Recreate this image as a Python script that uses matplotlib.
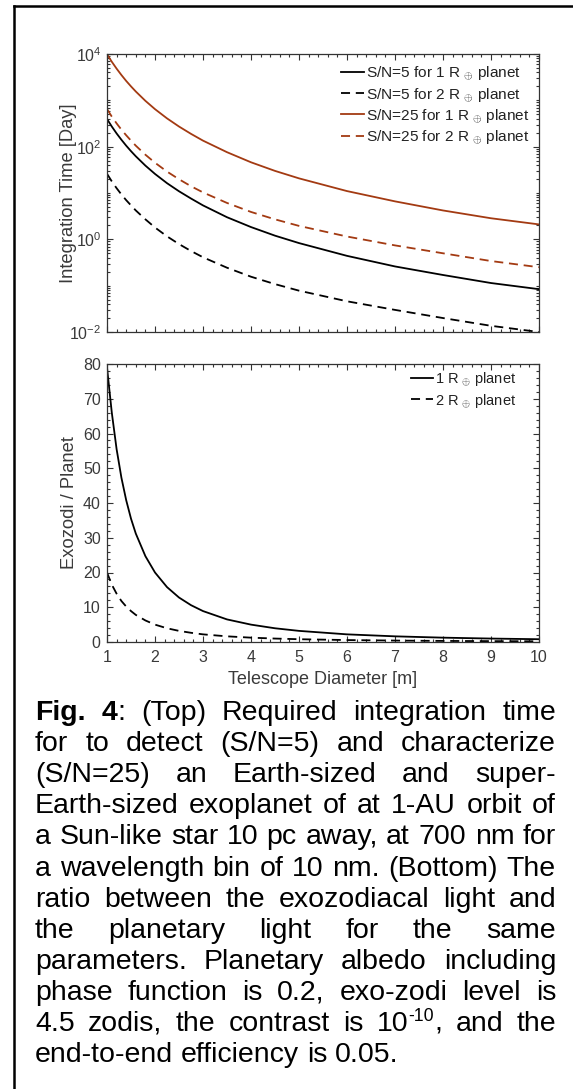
import math
import matplotlib
matplotlib.use('Agg')
import matplotlib.pyplot as plt
from matplotlib.ticker import FixedLocator, MultipleLocator, FuncFormatter, NullFormatter, LogLocator
from matplotlib.lines import Line2D

plt.rcParams['font.family'] = ['Liberation Sans', 'DejaVu Sans']
plt.rcParams['mathtext.fontset'] = 'custom'
plt.rcParams['mathtext.rm'] = 'Liberation Sans'
plt.rcParams['mathtext.it'] = 'Liberation Sans:italic'
plt.rcParams['mathtext.bf'] = 'Liberation Sans:bold'
plt.rcParams['mathtext.sf'] = 'Liberation Sans'

# ---------------- data ----------------
diameter = [1.0, 1.1, 1.2, 1.3, 1.4, 1.5, 1.6, 1.8, 2.0, 2.25, 2.5, 2.75,
            3.0, 3.5, 4.0, 4.5, 5.0, 6.0, 7.0, 8.0, 9.0, 10.0]

t_sn5_1re = [396, 272, 193, 141, 105, 80, 62, 39, 25.8, 16.3, 10.9, 7.6,
             5.4, 3.0, 1.84, 1.2, 0.83, 0.44, 0.26, 0.17, 0.114, 0.084]
t_sn5_2re = [26, 17.8, 12.7, 9.3, 7.0, 5.4, 4.2, 2.7, 1.8, 1.16, 0.79, 0.56,
             0.41, 0.244, 0.156, 0.108, 0.078, 0.046, 0.030, 0.020, 0.0136, 0.0100]
t_sn25_1re = [9900, 6800, 4830, 3520, 2620, 2000, 1550, 975, 645, 408, 272, 189,
              135, 76, 46, 30, 20.7, 11.0, 6.6, 4.2, 2.85, 2.1]
t_sn25_2re = [650, 445, 318, 233, 176, 135, 105, 67, 45, 29, 19.8, 14.0,
              10.3, 6.1, 3.9, 2.7, 1.95, 1.15, 0.74, 0.5, 0.34, 0.25]

ratio_1re = [79, 66, 55.5, 47.3, 40.8, 35.5, 31.2, 24.7, 20, 15.8, 12.8, 10.6,
             8.9, 6.5, 5.0, 3.95, 3.2, 2.2, 1.63, 1.25, 0.99, 0.8]
ratio_2re = [20, 16.5, 13.9, 11.8, 10.2, 8.9, 7.8, 6.2, 5.0, 3.95, 3.2, 2.65,
             2.2, 1.63, 1.25, 0.99, 0.8, 0.56, 0.41, 0.31, 0.25, 0.2]

top_labels = ['S/N=5 for 1 R $_{\\oplus}$ planet', 'S/N=5 for 2 R $_{\\oplus}$ planet',
              'S/N=25 for 1 R $_{\\oplus}$ planet', 'S/N=25 for 2 R $_{\\oplus}$ planet']
bottom_labels = ['1 R $_{\\oplus}$ planet', '2 R $_{\\oplus}$ planet']
xticks = [1, 2, 3, 4, 5, 6, 7, 8, 9, 10]
top_yticks = [1e-2, 1e0, 1e2, 1e4]
bottom_yticks = [0, 10, 20, 30, 40, 50, 60, 70, 80]

caption_lines = [
    "Fig. 4: (Top) Required integration time",
    "for to detect (S/N=5) and characterize",
    "(S/N=25) an Earth-sized and super-",
    "Earth-sized exoplanet of at 1-AU orbit of",
    "a Sun-like star 10 pc away, at 700 nm for",
    "a wavelength bin of 10 nm. (Bottom) The",
    "ratio between the exozodiacal light and",
    "the planetary light for the same",
    "parameters. Planetary albedo including",
    "phase function is 0.2, exo-zodi level is",
    "4.5 zodis, the contrast is 10^-10, and the",
    "end-to-end efficiency is 0.05.",
]

# ---------------- figure ----------------
W, H = 573, 1089
fig = plt.figure(figsize=(W / 100, H / 100), dpi=100)
fig.patch.set_facecolor('white')

BROWN = '#A33A12'
AX_COL = '#333333'
TXT_COL = '#3a3a3a'
DASH = (0, (5, 3.2))


def px_axes(x0, x1, ytop, ybot):
    return fig.add_axes([x0 / W, 1 - ybot / H, (x1 - x0) / W, (ybot - ytop) / H])


ax1 = px_axes(107, 539, 54, 332)
ax2 = px_axes(107, 539, 364, 642)

for ax in (ax1, ax2):
    for s in ax.spines.values():
        s.set_color(AX_COL)
        s.set_linewidth(0.9)
    ax.tick_params(which='both', direction='in', top=True, right=True,
                   color=AX_COL, labelcolor=TXT_COL, width=0.8)
    ax.tick_params(which='major', length=4.5)
    ax.tick_params(which='minor', length=2.3)
    ax.set_xlim(1, 10)
    ax.xaxis.set_major_locator(FixedLocator(xticks))
    ax.xaxis.set_minor_locator(MultipleLocator(0.2))

# ---- top panel
lw = 1.3
ax1.plot(diameter, t_sn5_1re, color='black', lw=lw, label=top_labels[0])
ax1.plot(diameter, t_sn5_2re, color='black', lw=lw, ls=DASH, label=top_labels[1])
ax1.plot(diameter, t_sn25_1re, color=BROWN, lw=lw, label=top_labels[2])
ax1.plot(diameter, t_sn25_2re, color=BROWN, lw=lw, ls=DASH, label=top_labels[3])
ax1.set_yscale('log')
ax1.set_ylim(1e-2, 1e4)
ax1.yaxis.set_major_locator(FixedLocator(top_yticks))
ax1.yaxis.set_minor_locator(LogLocator(base=10, subs=range(1, 10), numticks=20))
ax1.yaxis.set_minor_formatter(NullFormatter())
ax1.yaxis.set_major_formatter(FuncFormatter(
    lambda v, p: r'$\mathregular{10^{%d}}$' % round(math.log10(v))))
ax1.tick_params(axis='x', labelbottom=False)
ax1.tick_params(axis='y', labelsize=11.5, pad=4)
ax1.set_ylabel('Integration Time [Day]', fontsize=13.2, color=TXT_COL)
ax1.yaxis.set_label_coords(-0.069, 0.5)
leg1 = ax1.legend(loc='upper right', bbox_to_anchor=(0.985, 0.972), frameon=False,
                  fontsize=11.1, handlelength=1.45, handletextpad=0.15,
                  labelspacing=0.26, borderpad=0.2, borderaxespad=0)
for t in leg1.get_texts():
    t.set_color('#222222')

# ---- bottom panel
ax2.plot(diameter, ratio_1re, color='black', lw=lw, label=bottom_labels[0])
ax2.plot(diameter, ratio_2re, color='black', lw=lw, ls=DASH, label=bottom_labels[1])
ax2.set_ylim(0, 80)
ax2.yaxis.set_major_locator(FixedLocator(bottom_yticks))
ax2.yaxis.set_minor_locator(MultipleLocator(2))
ax2.tick_params(axis='y', labelsize=11.5, pad=4.5)
ax2.tick_params(axis='x', labelsize=11.5, pad=6)
ax2.set_ylabel('Exozodi / Planet', fontsize=13.2, color=TXT_COL)
ax2.yaxis.set_label_coords(-0.066, 0.5)
ax2.set_xlabel('Telescope Diameter [m]', fontsize=13, color=TXT_COL)
ax2.xaxis.set_label_coords(0.5, -0.105)
leg2 = ax2.legend(loc='upper right', bbox_to_anchor=(0.955, 0.985), frameon=False,
                  fontsize=10.5, handlelength=1.5, handletextpad=0.15,
                  labelspacing=0.26, borderpad=0.2, borderaxespad=0)
for t in leg2.get_texts():
    t.set_color('#222222')

# ---- frame lines of the figure box
fig.add_artist(Line2D([13.5 / W, 13.5 / W], [0, 1 - 5.5 / H], transform=fig.transFigure,
                      color='black', lw=1.8))
fig.add_artist(Line2D([13.5 / W, 1], [1 - 5.5 / H, 1 - 5.5 / H], transform=fig.transFigure,
                      color='black', lw=1.8))

# ---- justified caption
renderer = fig.canvas.get_renderer()
CAP_SIZE = 20.5
cap_left, cap_right = 35, 556
base0, lstep = 720, 31.1


def word_segments(word, li):
    if li == 0 and word == 'Fig.':
        return [(word, 'bold', CAP_SIZE, 0)]
    if li == 0 and word == '4:':
        return [('4', 'bold', CAP_SIZE, 0), (':', 'normal', CAP_SIZE, 0)]
    if word.startswith('10^'):
        rest = word[3:]
        exp = rest.rstrip(',')
        tail = rest[len(exp):]
        segs = [('10', 'normal', CAP_SIZE, 0), (exp, 'normal', CAP_SIZE * 0.62, 10)]
        if tail:
            segs.append((tail, 'normal', CAP_SIZE, 0))
        return segs
    return [(word, 'normal', CAP_SIZE, 0)]


def text_width(s, weight, size):
    t = fig.text(0, 0, s, fontsize=size, fontweight=weight)
    w = t.get_window_extent(renderer).width
    t.remove()
    return w


space_w = text_width('a a', 'normal', CAP_SIZE) - text_width('aa', 'normal', CAP_SIZE)

for li, line in enumerate(caption_lines):
    words = line.split(' ')
    segs = [word_segments(w, li) for w in words]
    widths = [[text_width(s, wt, sz) for (s, wt, sz, dy) in sg] for sg in segs]
    total = sum(sum(w) for w in widths)
    last = li == len(caption_lines) - 1
    if last or len(words) == 1:
        gap = space_w
    else:
        gap = (cap_right - cap_left - total) / (len(words) - 1)
        gap = max(gap, 0.55 * space_w)
    x = cap_left
    yb = base0 + li * lstep
    for sg, wl in zip(segs, widths):
        for (s, wt, sz, dy), wv in zip(sg, wl):
            fig.text(x / W, 1 - (yb - dy) / H, s, fontsize=sz, fontweight=wt,
                     ha='left', va='baseline', color='black')
            x += wv
        x += gap

fig.savefig('out.png', dpi=100, facecolor='white')
